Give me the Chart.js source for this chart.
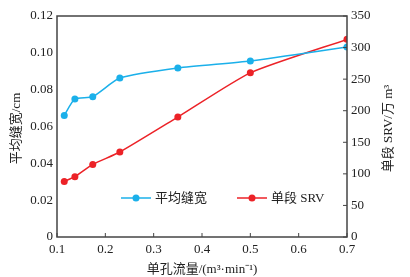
<!DOCTYPE html>
<html><head><meta charset="utf-8">
<script src="https://cdn.jsdelivr.net/npm/chart.js@4/dist/chart.umd.min.js"></script>
<style>html,body{margin:0;padding:0;background:#fff}#wrap{width:410px;height:277px}</style>
</head><body><div id="wrap"><canvas id="c" width="410" height="277"></canvas></div>
<script>
const flowRate = [0.115, 0.137, 0.174, 0.23, 0.35, 0.5, 0.7];
const avgWidth = [0.066, 0.075, 0.0762, 0.0863, 0.0918, 0.0956, 0.1032];
const srvFlow = [0.115, 0.137, 0.174, 0.23, 0.35, 0.5, 0.7];
const srvValues = [88, 95.5, 115, 134.6, 190, 260, 313];
const xTicks = [0.1, 0.2, 0.3, 0.4, 0.5, 0.6, 0.7];
const names = ['平均缝宽', '单段 SRV'];
const xTitle = '单孔流量/(m³·min⁻¹)';
const yLeftTitle = '平均缝宽/cm';
const yRightTitle = '单段 SRV/万 m³';

const BLUE = '#1bb0ea', RED = '#ec2227', AX = '#444', TXT = '#222';
const FONT = '"Liberation Serif", "Noto Sans CJK SC", serif';

const framePlugin = {
  id: 'frame',
  afterDraw(chart) {
    const {ctx, chartArea: a, scales} = chart;
    ctx.save();
    ctx.strokeStyle = AX; ctx.lineWidth = 1.5;
    ctx.strokeRect(a.left, a.top, a.right - a.left, a.bottom - a.top);
    ctx.lineWidth = 1;
    xTicks.forEach(v => { const x = scales.x.getPixelForValue(v); ctx.beginPath(); ctx.moveTo(x, a.bottom); ctx.lineTo(x, a.bottom - 4); ctx.stroke(); });
    scales.y2.ticks.forEach(t => { const y = scales.y2.getPixelForValue(t.value); ctx.beginPath(); ctx.moveTo(a.right, y); ctx.lineTo(a.right - 4, y); ctx.stroke(); });
    // legend
    const ly = 198;
    const items = [[121, BLUE, names[0]], [237, RED, names[1]]];
    ctx.font = '13px ' + FONT; ctx.textBaseline = 'middle'; ctx.fillStyle = TXT;
    items.forEach(([x0, col, label]) => {
      ctx.strokeStyle = col; ctx.lineWidth = 1.5;
      ctx.beginPath(); ctx.moveTo(x0, ly); ctx.lineTo(x0 + 30, ly); ctx.stroke();
      ctx.fillStyle = col; ctx.beginPath(); ctx.arc(x0 + 15, ly, 3.5, 0, Math.PI * 2); ctx.fill();
      ctx.fillStyle = TXT; ctx.fillText(label, x0 + 34, ly + 1);
    });
    // axis titles (both read bottom-to-top)
    const cy = (a.top + a.bottom) / 2 + 2;
    ctx.textAlign = 'center';
    [[17, yLeftTitle], [389, yRightTitle]].forEach(([x, t]) => {
      ctx.save(); ctx.translate(x, cy); ctx.rotate(-Math.PI / 2);
      ctx.fillStyle = TXT; ctx.fillText(t, 0, 0); ctx.restore();
    });
    ctx.restore();
  }
};

new Chart(document.getElementById('c'), {
  type: 'line',
  data: {
    datasets: [
      { label: names[0], data: flowRate.map((x, i) => ({x, y: avgWidth[i]})), yAxisID: 'y',
        borderColor: BLUE, backgroundColor: BLUE, borderWidth: 1.5, pointRadius: 3.5, pointBorderWidth: 0,
        tension: 0.2 },
      { label: names[1], data: srvFlow.map((x, i) => ({x, y: srvValues[i]})), yAxisID: 'y2',
        borderColor: RED, backgroundColor: RED, borderWidth: 1.5, pointRadius: 3.5, pointBorderWidth: 0,
        tension: 0.2 }
    ]
  },
  options: {
    responsive: false, animation: false, devicePixelRatio: 1,
    layout: { padding: { top: 16, left: 0, right: 0, bottom: 0 } },
    plugins: { legend: { display: false }, tooltip: { enabled: false } },
    scales: {
      x: { type: 'linear', min: 0.1, max: 0.7, border: { display: false },
        grid: { display: false, drawTicks: false },
        afterBuildTicks: s => { s.ticks = xTicks.map(v => ({value: v})); },
        afterFit: s => { s.height = 40; },
        ticks: { padding: 5, color: TXT, font: { family: FONT, size: 13 }, callback: v => v.toFixed(1) },
        title: { display: true, text: xTitle, color: TXT, font: { family: FONT, size: 13 }, padding: { top: 2, bottom: 0 } } },
      y: { type: 'linear', position: 'left', min: 0, max: 0.12, border: { display: false },
        grid: { display: false, drawTicks: false },
        afterFit: s => { s.width = 57; },
        ticks: { stepSize: 0.02, padding: 4, color: TXT, font: { family: FONT, size: 13 }, callback: v => v === 0 ? '0' : v.toFixed(2) } },
      y2: { type: 'linear', position: 'right', min: 0, max: 350, border: { display: false },
        grid: { display: false, drawTicks: false },
        afterFit: s => { s.width = 63; },
        ticks: { stepSize: 50, padding: 4, color: TXT, font: { family: FONT, size: 13 } } }
    }
  },
  plugins: [framePlugin]
});
</script></body></html>
